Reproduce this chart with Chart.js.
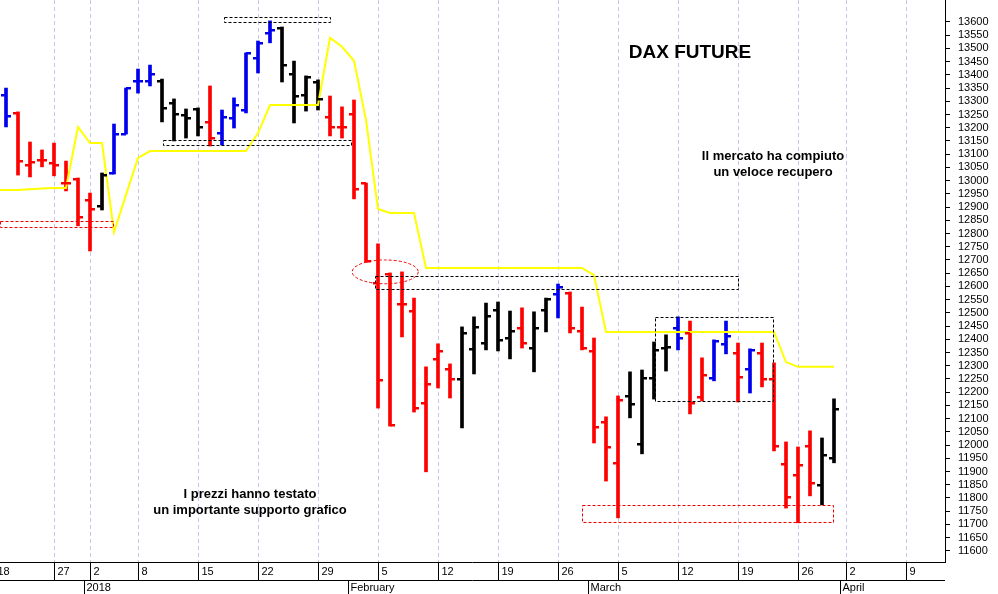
<!DOCTYPE html>
<html><head><meta charset="utf-8">
<script src="https://cdn.jsdelivr.net/npm/chart.js@4/dist/chart.umd.min.js"></script>
<style>html,body{margin:0;padding:0;background:#fff}#w{width:998px;height:594px}</style>
</head><body><div id="w"><canvas id="c"></canvas></div>
<script>
const idx=[];for(let i=1;i<=70;i++)idx.push(i);
const highs=[13350,13260,13146,13116,13142,13074,13010,12953,13029,13214,13350,13422,13437,13384,13309,13271,13275,13358,13267,13313,13483,13528,13604,13581,13452,13396,13381,13320,13279,13305,12991,12761,12651,12655,12556,12296,12383,12307,12447,12485,12537,12541,12507,12519,12504,12556,12609,12579,12522,12405,12107,12186,12277,12284,12390,12417,12485,12469,12330,12398,12469,12386,12364,12386,12311,12012,11993,12054,12027,12175];
const lows=[13203,13021,13014,13052,13018,12961,12829,12734,12889,13025,13176,13331,13358,13222,13150,13161,13169,13131,13135,13199,13256,13407,13521,13373,13218,13263,13267,13169,13161,12931,12692,12140,12072,12409,12125,11899,12216,12178,12065,12269,12360,12356,12326,12367,12277,12428,12481,12424,12360,12008,11864,11725,12103,11967,12174,12280,12360,12118,12167,12243,12345,12163,12197,12220,11978,11762,11706,11808,11774,11933];
const opens=[13324,13256,13059,13078,13067,12991,13006,12927,12904,13029,13176,13377,13377,13377,13294,13248,13271,13222,13180,13237,13267,13464,13558,13577,13403,13324,13373,13241,13203,13252,12991,12613,12647,12534,12507,12159,12326,12288,12250,12364,12386,12511,12405,12443,12367,12511,12572,12575,12432,12356,12088,11933,12186,12004,12254,12367,12443,12424,12182,12254,12383,12348,12288,12348,12250,11929,11887,11997,11849,11952];
const closes=[13245,13074,13070,13078,13059,12991,12863,12893,13021,13176,13350,13377,13403,13275,13252,13237,13203,13161,13241,13286,13483,13521,13570,13437,13320,13392,13309,13203,13203,12969,12696,12246,12076,12534,12140,12231,12356,12250,12424,12447,12488,12398,12432,12386,12443,12553,12598,12443,12367,12069,11993,12171,12156,12254,12360,12371,12405,12159,12265,12394,12413,12258,12360,12250,11997,11804,11925,11857,11963,12137];
const barColors="brrrrrrrkbbbbkkkkrbbbbbkkkkrrrrrrrrrrrkkkkkrkkbrrrrrkkkkbrrbbrbrrrrrkk";
const stopIdx=[0,1,2,3,4,5,6,7,8,9,10,11,12,13,14,15,16,17,18,19,20,21,22,23,24,25,26,27,28,29,30,31,32,33,34,35,36,37,38,39,40,41,42,43,44,45,46,47,48,49,50,51,52,53,54,55,56,57,58,59,60,61,62,63,64,65,66,67,68,69,70];
const stopVals=[12965,12965,12965,12967,12970,12972,12972,13203,13142,13142,12806,12946,13086,13112,13112,13112,13112,13112,13112,13112,13112,13112,13180,13286,13286,13286,13286,13286,13540,13506,13453,13230,12893,12878,12878,12878,12670,12670,12670,12670,12670,12670,12670,12670,12670,12670,12670,12670,12670,12670,12643,12428,12428,12428,12428,12428,12428,12428,12428,12428,12428,12428,12428,12428,12428,12428,12314,12296,12296,12296,12296];
const dayTickIdx=[0,5,8,12,17,22,27,32,37,42,47,52,57,62,67,71,76];
const dayTickLabels=["18","27","2","8","15","22","29","5","12","19","26","5","12","19","26","2","9"];
const monthIdx=[8,30,50,71];
const monthLabels=["2018","February","March","April"];
const yTicks=[];for(let v=11600;v<=13600;v+=50)yTicks.push(v);
const boxes=[[19.2,28,13600,13619,'#000'],[14.1,29.8,13135,13154,'#000'],[0.5,9.9,12825,12847,'#e00'],[31.75,62,12590,12640,'#000'],[55.1,64.9,12167,12485,'#000'],[49,69.9,11710,11774,'#e00']];
const ellipse=[32.6,12655,2.75,45];
const colMap={b:'#0000ee',k:'#000000',r:'#ff0000'};

const ohlcPlugin={id:'ohlc',
 beforeDatasetsDraw(ch){const {ctx,chartArea:a,scales:{x}}=ch;ctx.save();ctx.strokeStyle='#c8c8e6';ctx.setLineDash([4,3]);ctx.lineWidth=1;
  dayTickIdx.forEach(i=>{const px=Math.round(x.getPixelForValue(i))+0.5;if(px<a.left||px>a.right)return;ctx.beginPath();ctx.moveTo(px,a.top);ctx.lineTo(px,a.bottom);ctx.stroke();});ctx.restore();},
 afterDatasetsDraw(ch){const {ctx,scales:{x,y},chartArea:a}=ch;ctx.save();
  ctx.beginPath();ctx.rect(a.left,a.top,a.right-a.left,a.bottom-a.top);ctx.clip();
  idx.forEach((i,k)=>{const px=x.getPixelForValue(i);ctx.fillStyle=colMap[barColors[k]];
   const yo=Math.round(y.getPixelForValue(opens[k])),yc=Math.round(y.getPixelForValue(closes[k]));
   ctx.fillRect(px-5,yo-1,5,2.5);ctx.fillRect(px,yc-1,5,2.5);});
  ctx.lineWidth=1;ctx.setLineDash([3,2]);
  boxes.forEach(b=>{ctx.strokeStyle=b[4];const x0=x.getPixelForValue(b[0]),x1=x.getPixelForValue(b[1]),y0=y.getPixelForValue(b[3]),y1=y.getPixelForValue(b[2]);ctx.strokeRect(Math.round(x0)+0.5,Math.round(y0)+0.5,Math.round(x1-x0),Math.round(y1-y0));});
  ctx.strokeStyle='#e00';const cx=x.getPixelForValue(ellipse[0]),cy=y.getPixelForValue(ellipse[1]);
  const rx=x.getPixelForValue(ellipse[0]+ellipse[2])-cx,ry=cy-y.getPixelForValue(ellipse[1]+ellipse[3]);
  ctx.beginPath();ctx.ellipse(cx,cy,rx,ry,0,0,Math.PI*2);ctx.stroke();
  ctx.setLineDash([]);ctx.fillStyle='#000';ctx.textAlign='center';ctx.textBaseline='middle';
  ctx.font='bold 19px Arial, "Liberation Sans"';ctx.fillText('DAX FUTURE',690,53);
  ctx.font='bold 13px Arial, "Liberation Sans"';
  ctx.fillText('Il mercato ha compiuto',773,156);ctx.fillText('un veloce recupero',773,172);
  ctx.fillText('I prezzi hanno testato',250,494);ctx.fillText('un importante supporto grafico',250,510);
  ctx.restore();
  ctx.save();ctx.strokeStyle='#000';ctx.lineWidth=1;ctx.fillStyle='#000';ctx.font='11px Arial, "Liberation Sans"';ctx.textBaseline='middle';ctx.textAlign='left';
  const b=a.bottom;ctx.beginPath();ctx.moveTo(0,b+0.5);ctx.lineTo(a.right,b+0.5);ctx.moveTo(0,b+18.5);ctx.lineTo(a.right,b+18.5);ctx.stroke();
  dayTickIdx.forEach((i,k)=>{const px=Math.round(x.getPixelForValue(i))+0.5;if(px>a.right)return;ctx.beginPath();ctx.moveTo(px,b);ctx.lineTo(px,b+18);ctx.stroke();ctx.fillText(dayTickLabels[k],px+3,b+10);});
  monthIdx.forEach((i,k)=>{const px=Math.round(x.getPixelForValue(i-0.5))+0.5;ctx.beginPath();ctx.moveTo(px,b+18);ctx.lineTo(px,b+32);ctx.stroke();ctx.fillText(monthLabels[k],px+2,b+26);});
  ctx.restore();}
};

new Chart(document.getElementById('c'),{
 data:{datasets:[
  {type:'line',data:stopIdx.map((i,k)=>({x:i,y:stopVals[k]})),borderColor:'#ffff00',borderWidth:2,pointRadius:0,tension:0},
  {type:'bar',data:idx.map((i,k)=>({x:i,y:[lows[k],highs[k]]})),backgroundColor:idx.map((i,k)=>colMap[barColors[k]]),barThickness:3}
 ]},
 options:{responsive:true,maintainAspectRatio:false,animation:false,layout:{padding:0},
  plugins:{legend:{display:false},tooltip:{enabled:false}},
  scales:{
   x:{type:'linear',min:0.5,max:79.25,offset:false,grid:{display:false},border:{display:false},ticks:{display:false},
      afterFit(s){s.height=32;s.paddingLeft=0;s.paddingRight=0;}},
   y:{position:'right',min:11558,max:13683,
      afterBuildTicks(s){s.ticks=yTicks.map(v=>({value:v}));},
      afterFit(s){s.width=53;s.paddingTop=0;s.paddingBottom=0;},
      grid:{drawOnChartArea:false,drawTicks:true,tickLength:5,color:'#000'},
      border:{display:true,color:'#000'},
      ticks:{color:'#000',padding:8,font:{size:11,family:'Arial, "Liberation Sans"'},autoSkip:false,callback:v=>String(v)}}
  }},
 plugins:[ohlcPlugin]
});
</script></body></html>
